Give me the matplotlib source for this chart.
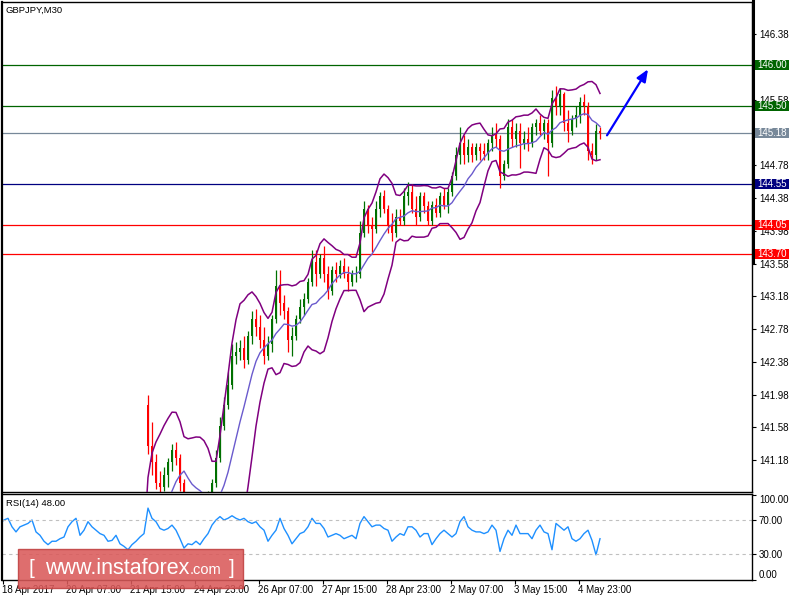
import matplotlib

matplotlib.use("Agg")
import matplotlib.pyplot as plt
import numpy as np
import pandas as pd
from matplotlib.lines import Line2D
from matplotlib.patches import Rectangle
from matplotlib import transforms

plt.rcParams["font.family"] = ["Liberation Sans", "DejaVu Sans"]

# closes of the bars that sit below the visible price range (only feed the bands)
early_close = [140.30, 140.35, 140.32, 140.40, 140.38, 140.45, 140.42, 140.48, 140.40, 140.35,
               140.28, 140.20, 140.15, 140.10, 140.18, 140.12, 140.20, 140.25, 140.30, 140.22,
               140.15, 140.10, 140.05, 140.15, 140.20, 140.12, 140.05, 140.00, 139.95, 140.05,
               140.10, 140.00, 139.90, 139.95, 140.05, 140.10, 140.15]

# visible M30 candles (coarse)
opens = [141.85, 141.35, 141.15, 140.90, 140.85, 141.00, 141.15, 141.30, 141.20, 140.90,
         140.65, 140.50, 140.40, 140.45, 140.50, 140.55, 140.75, 140.90, 141.20, 141.60,
         141.85, 142.10, 142.45, 142.50, 142.55, 142.40, 142.70, 142.90, 142.80, 142.65,
         142.45, 142.60, 142.90, 143.30, 143.10, 143.00, 142.65, 142.70, 142.90, 143.05,
         143.15, 143.35, 143.60, 143.45, 143.65, 143.45, 143.25, 143.50, 143.45, 143.55,
         143.45, 143.35, 143.45, 143.45, 143.95, 144.25, 144.05, 144.00, 144.25, 144.40,
         144.25, 144.05, 143.95, 144.15, 144.10, 144.40, 144.45, 144.25, 144.15, 144.40,
         144.28, 144.10, 144.30, 144.20, 144.40, 144.30, 144.45, 144.65, 144.90, 145.05,
         144.90, 145.00, 144.90, 145.00, 144.95, 144.92, 145.05, 145.15, 145.10, 144.65,
         144.80, 145.25, 145.10, 145.20, 145.05, 145.10, 145.05, 145.25, 145.30, 145.20,
         145.30, 145.05, 145.60, 145.50, 145.65, 145.30, 145.20, 145.35, 145.40, 145.55,
         145.50, 144.95, 144.90, 145.20]
highs = [141.97, 141.65, 141.25, 141.05, 141.10, 141.20, 141.38, 141.40, 141.25, 140.95,
         140.75, 140.60, 140.55, 140.60, 140.65, 140.80, 140.95, 141.30, 141.70, 141.95,
         142.25, 142.60, 142.62, 142.65, 142.70, 142.75, 143.00, 143.02, 142.95, 142.80,
         142.70, 142.95, 143.50, 143.50, 143.20, 143.05, 142.80, 142.95, 143.15, 143.22,
         143.40, 143.75, 143.75, 143.70, 143.80, 143.55, 143.55, 143.60, 143.62, 143.65,
         143.55, 143.50, 143.55, 144.10, 144.35, 144.30, 144.15, 144.35, 144.45, 144.48,
         144.30, 144.20, 144.25, 144.25, 144.50, 144.58, 144.55, 144.40, 144.45, 144.45,
         144.35, 144.35, 144.38, 144.45, 144.50, 144.50, 144.70, 145.00, 145.25, 145.15,
         145.10, 145.05, 145.05, 145.05, 145.05, 145.10, 145.25, 145.30, 145.15, 144.85,
         145.35, 145.35, 145.30, 145.30, 145.20, 145.25, 145.30, 145.35, 145.40, 145.35,
         145.35, 145.70, 145.75, 145.72, 145.68, 145.45, 145.40, 145.50, 145.62, 145.65,
         145.55, 145.05, 145.28, 145.25]
lows = [141.25, 141.00, 140.82, 140.75, 140.80, 140.85, 141.05, 141.12, 140.80, 140.55,
        140.40, 140.30, 140.30, 140.35, 140.40, 140.50, 140.70, 140.85, 141.15, 141.55,
        141.80, 142.05, 142.35, 142.40, 142.30, 142.35, 142.60, 142.70, 142.55, 142.35,
        142.40, 142.50, 142.85, 142.95, 142.90, 142.50, 142.45, 142.65, 142.85, 142.95,
        143.10, 143.30, 143.30, 143.40, 143.35, 143.15, 143.20, 143.35, 143.40, 143.40,
        143.25, 143.30, 143.35, 143.40, 143.90, 143.95, 143.72, 143.95, 144.15, 144.20,
        143.95, 143.85, 143.90, 144.05, 144.05, 144.30, 144.20, 144.05, 144.10, 144.20,
        144.05, 144.05, 144.15, 144.15, 144.25, 144.20, 144.40, 144.60, 144.80, 144.80,
        144.82, 144.82, 144.85, 144.85, 144.85, 144.85, 144.95, 145.00, 144.50, 144.60,
        144.75, 145.00, 145.00, 144.75, 144.98, 144.95, 145.00, 145.15, 145.15, 145.10,
        144.65, 145.00, 145.40, 145.40, 145.20, 145.06, 145.15, 145.25, 145.30, 145.40,
        144.85, 144.80, 144.85, 145.10]
closes = [141.35, 141.15, 140.90, 140.85, 141.00, 141.15, 141.30, 141.20, 140.90, 140.65,
          140.50, 140.40, 140.45, 140.50, 140.55, 140.75, 140.90, 141.20, 141.60, 141.85,
          142.10, 142.45, 142.50, 142.55, 142.40, 142.70, 142.90, 142.80, 142.65, 142.45,
          142.60, 142.90, 143.30, 143.10, 143.00, 142.65, 142.70, 142.90, 143.05, 143.15,
          143.35, 143.60, 143.45, 143.65, 143.45, 143.25, 143.50, 143.45, 143.55, 143.45,
          143.35, 143.45, 143.45, 143.95, 144.25, 144.05, 144.00, 144.25, 144.40, 144.25,
          144.05, 143.95, 144.15, 144.10, 144.40, 144.45, 144.25, 144.15, 144.40, 144.28,
          144.10, 144.30, 144.20, 144.40, 144.30, 144.45, 144.65, 144.90, 145.05, 144.90,
          145.00, 144.90, 145.00, 144.95, 144.92, 145.05, 145.15, 145.10, 144.65, 144.80,
          145.25, 145.10, 145.20, 145.05, 145.10, 145.05, 145.25, 145.30, 145.20, 145.30,
          145.05, 145.60, 145.50, 145.65, 145.30, 145.20, 145.35, 145.40, 145.55, 145.50,
          144.95, 144.90, 145.20, 145.18]

# RSI(14), one value per bar from the left edge
rsi = [66, 70, 72, 62, 56, 62, 64, 66, 70, 56, 52, 45, 41, 45, 45, 48, 50, 62, 68, 72,
       52, 58, 68, 62, 58, 54, 52, 45, 46, 52, 42, 39, 35, 41, 45, 50, 54, 84, 72, 68,
       60, 58, 60, 64, 58, 48, 37, 42, 41, 45, 41, 48, 54, 64, 70, 74, 70, 72, 75, 72,
       70, 72, 68, 66, 68, 62, 58, 45, 52, 58, 72, 60, 52, 42, 48, 54, 56, 62, 72, 66,
       66, 60, 50, 52, 54, 52, 48, 50, 52, 48, 66, 74, 68, 62, 64, 64, 60, 58, 45, 50,
       54, 52, 62, 62, 58, 50, 54, 54, 41, 48, 54, 58, 54, 50, 54, 68, 74, 62, 58, 56,
       56, 54, 56, 64, 58, 33, 48, 58, 52, 64, 54, 54, 54, 48, 58, 64, 56, 54, 35, 66,
       62, 58, 62, 48, 45, 48, 54, 58, 46, 29, 48]

levels = [146.00, 145.50, 145.18, 144.55, 144.05, 143.70]
level_colors = ["#006400", "#006400", "#778899", "#000080", "#FF0000", "#FF0000"]
price_ticks = [141.18, 141.58, 141.98, 142.38, 142.78, 143.18, 143.58, 143.98,
               144.38, 144.78, 145.18, 145.58, 145.98, 146.38]
hidden_ticks = [145.18, 145.98]  # fully covered by the level boxes
date_labels = ["18 Apr 2017", "20 Apr 07:00", "21 Apr 15:00", "24 Apr 23:00", "26 Apr 07:00",
               "27 Apr 15:00", "28 Apr 23:00", "2 May 07:00", "3 May 15:00", "4 May 23:00"]
date_ticks = [2.5, 66.5, 130.5, 194.5, 258.5, 322.5, 386.5, 450.5, 514.5, 578.5]
arrow_from = (607, 145.146)
arrow_to = (648, 145.953)

STEP = 4
W, H = 800, 600
GREEN, RED = "#007000", "#FF0000"

fig = plt.figure(figsize=(8, 6), dpi=100)
ax = fig.add_axes([2 / W, 108 / H, 750 / W, 490 / H])
rax = fig.add_axes([2 / W, 20.5 / H, 750 / W, 85.5 / H])

# candles
opens, highs, lows, closes = map(np.array, (opens, highs, lows, closes))
x = (np.arange(len(closes)) + len(early_close)) * STEP
cols = np.where(closes >= opens, GREEN, RED)
ax.vlines(x, lows, highs, colors=cols, lw=0.9, zorder=2)
ax.bar(x, closes - opens, bottom=opens, width=2.8, color=cols, zorder=2)

# bollinger bands
s = pd.Series(np.concatenate([early_close, closes]))
mid = s.rolling(10).mean()
sd = s.rolling(10).std(ddof=0)
xa = np.arange(len(s)) * STEP
ax.plot(xa, mid + 2 * sd, color="#800080", lw=1.1, zorder=3)
ax.plot(xa, mid - 2 * sd, color="#800080", lw=1.1, zorder=3)
ax.plot(xa, mid, color="#6A5ACD", lw=1.0, zorder=3)

for lv, c in zip(levels, level_colors):
    ax.axhline(lv, color=c, lw=0.9, zorder=1)

ax.annotate("", xy=arrow_to, xytext=arrow_from,
            arrowprops=dict(arrowstyle="-|>,head_length=0.6,head_width=0.25",
                            color="#0000FF", lw=1.6, mutation_scale=12, shrinkA=0, shrinkB=0))

ax.set_xlim(2, 752)
ax.set_ylim(140.789, 146.775)
ax.yaxis.tick_right()
ax.set_yticks(price_ticks)
ax.set_yticklabels(["" if t in hidden_ticks else f"{t:.2f}" for t in price_ticks])
ax.tick_params(axis="y", direction="out", length=3, width=0.8, pad=2, labelsize=7)
ax.set_xticks([])
for sp in ax.spines.values():
    sp.set_linewidth(1.0)
ax.spines["left"].set_linewidth(1.6)

# level labels on the price scale
bt = transforms.blended_transform_factory(fig.transFigure, ax.transData)
box_h = 10 / 81.87
for lv, c in zip(levels, level_colors):
    ax.add_patch(Rectangle((755 / W, lv - box_h / 2), 34 / W, box_h, transform=bt,
                           facecolor=c, edgecolor="none", clip_on=False, zorder=5))
    ax.text(772 / W, lv, f"{lv:.2f}", transform=bt, ha="center", va="center",
            color="white", fontsize=7, clip_on=False, zorder=6)

fig.add_artist(Line2D([752.5 / W] * 2, [1, 1 - 262 / H], lw=2.2, color="black",
                      transform=fig.transFigure))

fig.text(6 / W, 1 - 10 / H, "GBPJPY,M30", fontsize=6.8, va="center")

# RSI panel
rax.plot(np.arange(len(rsi)) * STEP, rsi, color="#1E90FF", lw=1.0)
for lv in (30, 70):
    rax.axhline(lv, color="#C0C0C0", lw=0.8, dashes=(3, 3))
rax.set_xlim(2, 752)
rax.set_ylim(0, 100.6)
rax.yaxis.tick_right()
rax.set_yticks([0, 30, 70, 100])
rax.set_yticklabels(["0.00", "30.00", "70.00", "100.00"])
ylabs = rax.get_yticklabels()
ylabs[0].set_verticalalignment("bottom")
ylabs[-1].set_verticalalignment("top")
rax.tick_params(axis="y", direction="out", length=3, width=0.8, pad=2, labelsize=7)
rax.set_xticks(date_ticks)
rax.set_xticklabels(date_labels, ha="left")
rax.tick_params(axis="x", direction="out", length=3, width=0.8, pad=1, labelsize=7)
for sp in rax.spines.values():
    sp.set_linewidth(1.0)
rax.spines["left"].set_linewidth(1.6)
fig.text(6 / W, 1 - 503 / H, "RSI(14) 48.00", fontsize=6.8, va="center")

# watermark
fig.add_artist(Rectangle((18 / W, 12 / H), 225 / W, 39 / H, transform=fig.transFigure,
                         facecolor="#DA5A5A", edgecolor="#C04040", alpha=0.88, lw=1))
fig.text(31 / W, 1 - 568 / H, "[", color="white", fontsize=15, va="center", ha="center")
fig.text(45 / W, 1 - 568 / H, "www.instaforex", color="white", fontsize=15.5, va="center")
fig.text(190 / W, 1 - 570 / H, ".com", color="white", fontsize=10.5, va="center")
fig.text(232 / W, 1 - 568 / H, "]", color="white", fontsize=15, va="center", ha="center")

fig.savefig("out.png", dpi=100)
